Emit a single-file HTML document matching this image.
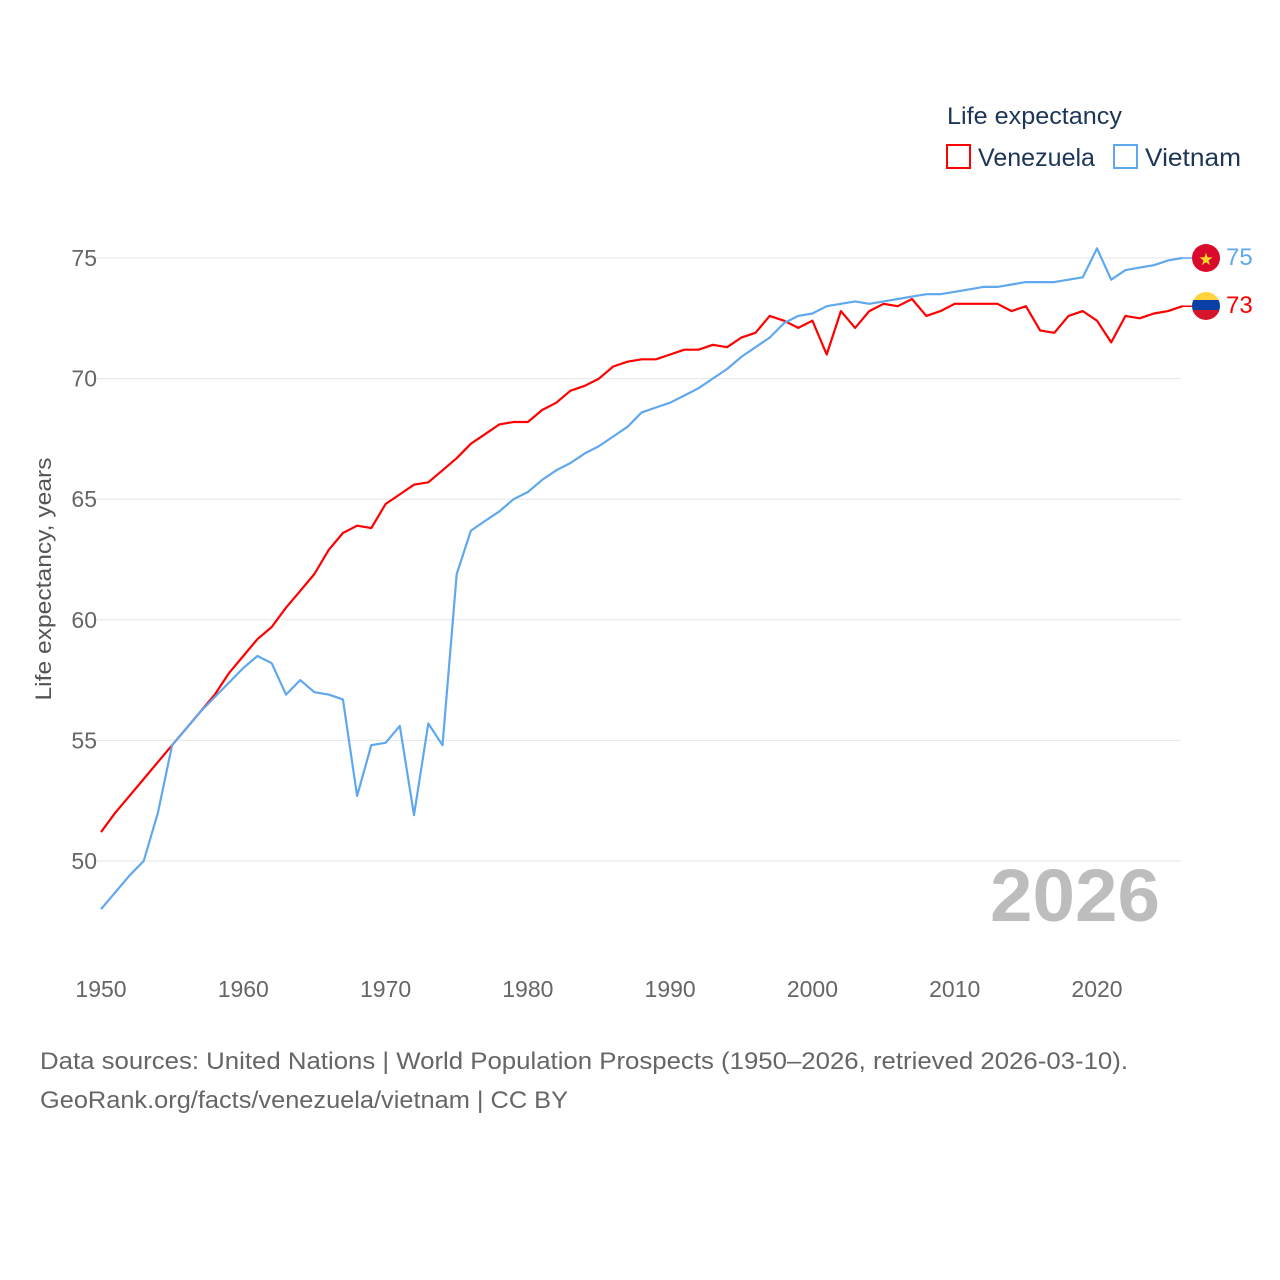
<!DOCTYPE html>
<html><head><meta charset="utf-8"><style>
body{margin:0;background:#fff;}
svg{display:block;font-family:"Liberation Sans",sans-serif;}
</style></head><body>
<svg id="chart" width="1280" height="1280" viewBox="0 0 1280 1280" xmlns="http://www.w3.org/2000/svg">
<rect width="1280" height="1280" fill="#fff"/>
<g id="grid"></g>
<g id="yticks"></g>
<g id="xticks"></g>
<text transform="translate(51,579) rotate(-90)" text-anchor="middle" font-size="22" fill="#555" textLength="243" lengthAdjust="spacingAndGlyphs">Life expectancy, years</text>
<text x="1160" y="921" text-anchor="end" font-size="74" font-weight="bold" fill="#bdbdbd" textLength="170" lengthAdjust="spacingAndGlyphs">2026</text>
<g id="series"></g>
<g>
<text x="947" y="124" font-size="24" fill="#1d3557" textLength="175" lengthAdjust="spacingAndGlyphs">Life expectancy</text>
<g>
<rect x="947" y="145" width="23" height="23" fill="none" stroke="#ff0000" stroke-width="2"/>
<text x="978" y="166" font-size="25" fill="#1d3557" textLength="117" lengthAdjust="spacingAndGlyphs">Venezuela</text></g>
<g>
<rect x="1114" y="145" width="23" height="23" fill="none" stroke="#5fa8ee" stroke-width="2"/>
<text x="1145" y="166" font-size="25" fill="#1d3557" textLength="96" lengthAdjust="spacingAndGlyphs">Vietnam</text></g>
</g>
<g>
<circle cx="1206" cy="258" r="14" fill="#da0b2a"/>
<text x="1206" y="265" text-anchor="middle" font-size="17" fill="#ffdc2e">★</text>
</g>
<g>
<clipPath id="vc"><circle cx="1206" cy="306" r="14"/></clipPath>
<g clip-path="url(#vc)">
<rect x="1190" y="290" width="32" height="11" fill="#ffd43f"/>
<rect x="1190" y="300" width="32" height="11" fill="#0a3fa5"/>
<rect x="1190" y="310" width="32" height="12" fill="#d5152a"/>
</g>
</g>
<text x="1226" y="265" font-size="24" fill="#5fa8ee">75</text>
<text x="1226" y="313" font-size="24" fill="#ff0000">73</text>
<text x="40" y="1069" font-size="24" fill="#666" textLength="1088" lengthAdjust="spacingAndGlyphs">Data sources: United Nations | World Population Prospects (1950–2026, retrieved 2026-03-10).</text>
<text x="40" y="1108" font-size="24" fill="#666" textLength="528" lengthAdjust="spacingAndGlyphs">GeoRank.org/facts/venezuela/vietnam | CC BY</text>
</svg>
<script>
const years = [];
for (let y = 1950; y <= 2026; y++) years.push(y);
const venezuela = [51.2,52.0,52.7,53.4,54.1,54.8,55.5,56.2,56.9,57.8,58.5,59.2,59.7,60.5,61.2,61.9,62.9,63.6,63.9,63.8,64.8,65.2,65.6,65.7,66.2,66.7,67.3,67.7,68.1,68.2,68.2,68.7,69.0,69.5,69.7,70.0,70.5,70.7,70.8,70.8,71.0,71.2,71.2,71.4,71.3,71.7,71.9,72.6,72.4,72.1,72.4,71.0,72.8,72.1,72.8,73.1,73.0,73.3,72.6,72.8,73.1,73.1,73.1,73.1,72.8,73.0,72.0,71.9,72.6,72.8,72.4,71.5,72.6,72.5,72.7,72.8,73.0];
const vietnam = [48.0,48.7,49.4,50.0,52.0,54.8,55.5,56.2,56.8,57.4,58.0,58.5,58.2,56.9,57.5,57.0,56.9,56.7,52.7,54.8,54.9,55.6,51.9,55.7,54.8,61.9,63.7,64.1,64.5,65.0,65.3,65.8,66.2,66.5,66.9,67.2,67.6,68.0,68.6,68.8,69.0,69.3,69.6,70.0,70.4,70.9,71.3,71.7,72.3,72.6,72.7,73.0,73.1,73.2,73.1,73.2,73.3,73.4,73.5,73.5,73.6,73.7,73.8,73.8,73.9,74.0,74.0,74.0,74.1,74.2,75.4,74.1,74.5,74.6,74.7,74.9,75.0];
const yTicks = [50,55,60,65,70,75];
const xTicks = [1950,1960,1970,1980,1990,2000,2010,2020];

const NS = "http://www.w3.org/2000/svg";
const X = yr => 101 + (yr - 1950) * (996 / 70);
const Y = v => 258 + (75 - v) * (603 / 25);
function mk(tag, attrs, parent) {
  const e = document.createElementNS(NS, tag);
  for (const k in attrs) e.setAttribute(k, attrs[k]);
  parent.appendChild(e);
  return e;
}
const grid = document.getElementById('grid'), yt = document.getElementById('yticks'), xt = document.getElementById('xticks'), ser = document.getElementById('series');
yTicks.forEach(v => {
  const l = mk('line', {x1: 94, x2: 1181, y1: Y(v), y2: Y(v), stroke: '#e6e6e6', 'stroke-width': 1}, grid);
  
  
  const t = mk('text', {x: 97, y: Y(v) + 8, 'text-anchor': 'end', 'font-size': 23, fill: '#666'}, yt);
  t.textContent = v;
  
  
});
xTicks.forEach(v => {
  const t = mk('text', {x: X(v), y: 997, 'text-anchor': 'middle', 'font-size': 23, fill: '#666'}, xt);
  t.textContent = v;
  
  
});
function line(vals, color, name) {
  const d = vals.map((v, i) => (i ? 'L' : 'M') + X(years[i]).toFixed(1) + ',' + Y(v).toFixed(1)).join('');
  const p = mk('path', {d: d, fill: 'none', stroke: color, 'stroke-width': 2.2, 'stroke-linejoin': 'round'}, ser);
  
  
  const last = vals[vals.length - 1];
  mk('line', {x1: X(2026), x2: 1192, y1: Y(last), y2: Y(last), stroke: color, 'stroke-width': 1.5}, ser);
}
line(venezuela, '#ff0000', 'venezuela-line');
line(vietnam, '#5fa8ee', 'vietnam-line');
</script>
</body></html>
